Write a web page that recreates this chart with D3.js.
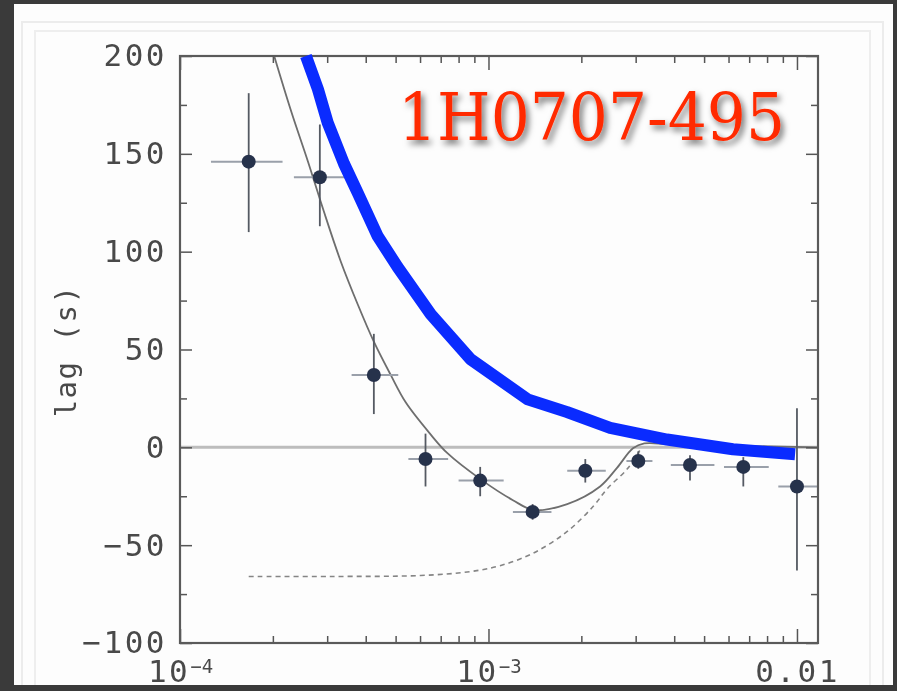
<!DOCTYPE html>
<html>
<head>
<meta charset="utf-8">
<script src="https://cdn.jsdelivr.net/npm/d3@7"></script>
<style>
  body { margin: 0; background: #3a3a3a; }
  svg { display: block; }
</style>
</head>
<body>
<svg id="chart" width="897" height="691"></svg>
<script>
// measured lag points (frequency in Hz, lag in s)
const freq   = [1.67e-4, 2.84e-4, 4.25e-4, 6.25e-4, 9.4e-4, 1.39e-3, 2.06e-3, 3.06e-3, 4.5e-3, 6.7e-3, 1.0e-2];
const freqLo = [1.26e-4, 2.34e-4, 3.6e-4, 5.5e-4, 8.0e-4, 1.2e-3, 1.8e-3, 2.8e-3, 3.9e-3, 5.8e-3, 8.7e-3];
const freqHi = [2.15e-4, 3.43e-4, 5.1e-4, 7.4e-4, 1.12e-3, 1.6e-3, 2.4e-3, 3.4e-3, 5.4e-3, 8.1e-3, 1.17e-2];
const lag    = [146, 138, 37, -6, -17, -33, -12, -7, -9, -10, -20];
const lagLo  = [110, 113, 17, -20, -25, -37, -18, -11, -17, -20, -63];
const lagHi  = [181, 165, 58, 7, -10, -29, -6, -2, -4, -5, 20];

// thin solid model curve
const modelFreq = [2.02e-4, 2.29e-4, 2.6e-4, 2.92e-4, 3.32e-4, 3.77e-4, 4.25e-4, 4.82e-4, 5.39e-4, 6.5e-4, 7.36e-4, 9.46e-4, 1.2e-3, 1.4e-3, 1.8e-3, 2.3e-3, 2.61e-3, 2.94e-3, 3.2e-3, 3.9e-3, 1.17e-2];
const modelLag  = [200, 172, 146, 121, 95, 73, 54, 37, 23, 6.5, -3, -16.5, -27, -32, -29, -20, -10.5, -0.5, 2, 1.5, 0];

// dashed model curve
const dashFreq = [1.67e-4, 3.08e-4, 6.03e-4, 8.74e-4, 1.09e-3, 1.40e-3, 1.80e-3, 2.19e-3, 2.43e-3, 2.82e-3, 3.11e-3];
const dashLag  = [-66, -66, -65.5, -63.5, -60.5, -54, -43, -30, -21, -11, -1];

// thick blue overlay
const blueFreq = [2.56e-4, 2.8e-4, 3.01e-4, 3.4e-4, 3.77e-4, 4.37e-4, 5.08e-4, 6.5e-4, 8.75e-4, 1.34e-3, 1.8e-3, 2.48e-3, 3.79e-3, 6.2e-3, 9.86e-3];
const blueLag  = [200, 183, 166, 145, 130, 108, 92, 68, 45, 24.5, 18, 10, 4, -1, -3.5];

const yTicks = [-100, -50, 0, 50, 100, 150, 200];
const yMinorTicks = [-75, -25, 25, 75, 125, 175];
const xTicks = [1e-4, 1e-3, 1e-2];
const xTickBase = ['10', '10', '0.01'];
const xTickExp = ['\u22124', '\u22123', ''];
const xMinorTicks = [2e-4, 3e-4, 4e-4, 5e-4, 6e-4, 7e-4, 8e-4, 9e-4, 2e-3, 3e-3, 4e-3, 5e-3, 6e-3, 7e-3, 8e-3, 9e-3];

const title = '1H0707-495';
const yLabel = 'lag (s)';

const svg = d3.select('#chart');

const plotL = 180, plotR = 818, plotT = 56, plotB = 643;

const x = d3.scaleLog().domain([1e-4, 0.0117]).range([plotL, plotR]);
const y = d3.scaleLinear().domain([-100, 200]).range([plotB, plotT]);

// white photo panel with faint inner borders (open at the bottom)
svg.append('rect').attr('x', 14).attr('y', 4).attr('width', 879).attr('height', 681).attr('fill', '#fdfdfd');
svg.append('path').attr('d', 'M22,685V22H883V685')
  .attr('fill', 'none').attr('stroke', '#ececec').attr('stroke-width', 2);
svg.append('path').attr('d', 'M35,685V31H870V685')
  .attr('fill', 'none').attr('stroke', '#eeeeee').attr('stroke-width', 2);

const defs = svg.append('defs');
defs.append('filter').attr('id', 'shadow').attr('x', '-10%').attr('y', '-30%').attr('width', '130%').attr('height', '170%')
  .append('feDropShadow').attr('dx', 3).attr('dy', 4).attr('stdDeviation', 3)
  .attr('flood-color', '#000').attr('flood-opacity', 0.55);
defs.append('filter').attr('id', 'soft')
  .append('feGaussianBlur').attr('stdDeviation', 0.5);

const chart = svg.append('g').attr('filter', 'url(#soft)');

// zero line
chart.append('line')
  .attr('x1', plotL).attr('x2', plotR)
  .attr('y1', y(0)).attr('y2', y(0))
  .attr('stroke', '#bdbdbd').attr('stroke-width', 3);

const line = d3.line()
  .x(d => x(d[0]))
  .y(d => y(d[1]));

chart.append('path')
  .datum(d3.zip(dashFreq, dashLag))
  .attr('d', line.curve(d3.curveCatmullRom.alpha(0.5)))
  .attr('fill', 'none')
  .attr('stroke', '#858585')
  .attr('stroke-width', 1.6)
  .attr('stroke-dasharray', '5,4');

chart.append('path')
  .datum(d3.zip(modelFreq, modelLag))
  .attr('d', line.curve(d3.curveCatmullRom.alpha(0.5)))
  .attr('fill', 'none')
  .attr('stroke', '#6e6e6e')
  .attr('stroke-width', 1.8);

// error bars
const pts = chart.selectAll('.pt')
  .data(d3.range(freq.length))
  .enter()
  .append('g')
  .attr('class', 'pt');

pts.append('line')
  .attr('x1', i => x(freqLo[i])).attr('x2', i => Math.min(x(freqHi[i]), plotR))
  .attr('y1', i => y(lag[i])).attr('y2', i => y(lag[i]))
  .attr('stroke', '#9aa0aa').attr('stroke-width', 2);

pts.append('line')
  .attr('x1', i => x(freq[i])).attr('x2', i => x(freq[i]))
  .attr('y1', i => y(lagLo[i])).attr('y2', i => y(lagHi[i]))
  .attr('stroke', '#555a63').attr('stroke-width', 1.8);

pts.append('circle')
  .attr('cx', i => x(freq[i]))
  .attr('cy', i => y(lag[i]))
  .attr('r', 7)
  .attr('fill', '#28314b');

// axes: ticks point inward, frame drawn separately
const tickFont = g => g.selectAll('text')
  .attr('fill', '#4a4a4a')
  .style('font-family', '"DejaVu Sans Mono", monospace')
  .style('font-size', '31px')
  .style('letter-spacing', '2.5px');

const axes = svg.append('g').attr('filter', 'url(#soft)');

axes.append('g')
  .attr('transform', `translate(0, ${plotB})`)
  .call(d3.axisBottom(x).tickValues(xTicks).tickSize(-14).tickSizeOuter(0).tickFormat(''))
  .call(g => g.select('.domain').remove())
  .call(g => g.selectAll('.tick').each(function(d, i) {
    d3.select(this).select('text').remove();
    const t = d3.select(this).append('text')
      .attr('y', 14)
      .attr('dy', '0.8em')
      .attr('text-anchor', 'middle');
    t.append('tspan').text(xTickBase[i]);
    if (xTickExp[i]) {
      t.append('tspan').attr('class', 'sup').attr('dy', '-0.45em').text(xTickExp[i]);
    }
  }))
  .call(tickFont)
  .call(g => g.selectAll('.sup').style('font-size', '19px').style('letter-spacing', '0px'));

axes.append('g')
  .attr('transform', `translate(0, ${plotB})`)
  .call(d3.axisBottom(x).tickValues(xMinorTicks).tickSize(-7).tickSizeOuter(0).tickFormat(''))
  .call(g => g.select('.domain').remove());

axes.append('g')
  .attr('transform', `translate(0, ${plotT})`)
  .call(d3.axisTop(x).tickValues(xTicks).tickSize(-14).tickSizeOuter(0).tickFormat(''))
  .call(g => g.select('.domain').remove());

axes.append('g')
  .attr('transform', `translate(0, ${plotT})`)
  .call(d3.axisTop(x).tickValues(xMinorTicks).tickSize(-7).tickSizeOuter(0).tickFormat(''))
  .call(g => g.select('.domain').remove());

axes.append('g')
  .attr('transform', `translate(${plotL}, 0)`)
  .call(d3.axisLeft(y).tickValues(yTicks).tickSize(-12).tickSizeOuter(0).tickPadding(13))
  .call(g => g.select('.domain').remove())
  .call(tickFont);

axes.append('g')
  .attr('transform', `translate(${plotL}, 0)`)
  .call(d3.axisLeft(y).tickValues(yMinorTicks).tickSize(-7).tickSizeOuter(0).tickFormat(''))
  .call(g => g.select('.domain').remove());

axes.append('g')
  .attr('transform', `translate(${plotR}, 0)`)
  .call(d3.axisRight(y).tickValues(yTicks).tickSize(-12).tickSizeOuter(0).tickFormat(''))
  .call(g => g.select('.domain').remove());

axes.append('g')
  .attr('transform', `translate(${plotR}, 0)`)
  .call(d3.axisRight(y).tickValues(yMinorTicks).tickSize(-7).tickSizeOuter(0).tickFormat(''))
  .call(g => g.select('.domain').remove());

axes.selectAll('.tick line').attr('stroke', '#555').attr('stroke-width', 1.5);

axes.append('rect')
  .attr('x', plotL).attr('y', plotT)
  .attr('width', plotR - plotL).attr('height', plotB - plotT)
  .attr('fill', 'none')
  .attr('stroke', '#5a5a5a')
  .attr('stroke-width', 2.2);

axes.append('text')
  .attr('transform', 'translate(66, 351) rotate(-90)')
  .attr('text-anchor', 'middle')
  .attr('dy', '0.35em')
  .attr('fill', '#4a4a4a')
  .style('font-family', '"DejaVu Sans Mono", monospace')
  .style('font-size', '29px')
  .style('letter-spacing', '1.5px')
  .text(yLabel);

// thick blue overlay line
svg.append('path')
  .datum(d3.zip(blueFreq, blueLag))
  .attr('d', line.curve(d3.curveLinear))
  .attr('fill', 'none')
  .attr('stroke', '#0a2bff')
  .attr('stroke-width', 12)
  .attr('stroke-linejoin', 'round');

// red source name
svg.append('text')
  .attr('x', 398)
  .attr('y', 140)
  .attr('textLength', 387)
  .attr('lengthAdjust', 'spacingAndGlyphs')
  .attr('fill', '#ff2a00')
  .attr('filter', 'url(#shadow)')
  .style('font-family', '"DejaVu Serif", serif')
  .style('font-size', '65px')
  .text(title);
</script>
</body>
</html>
